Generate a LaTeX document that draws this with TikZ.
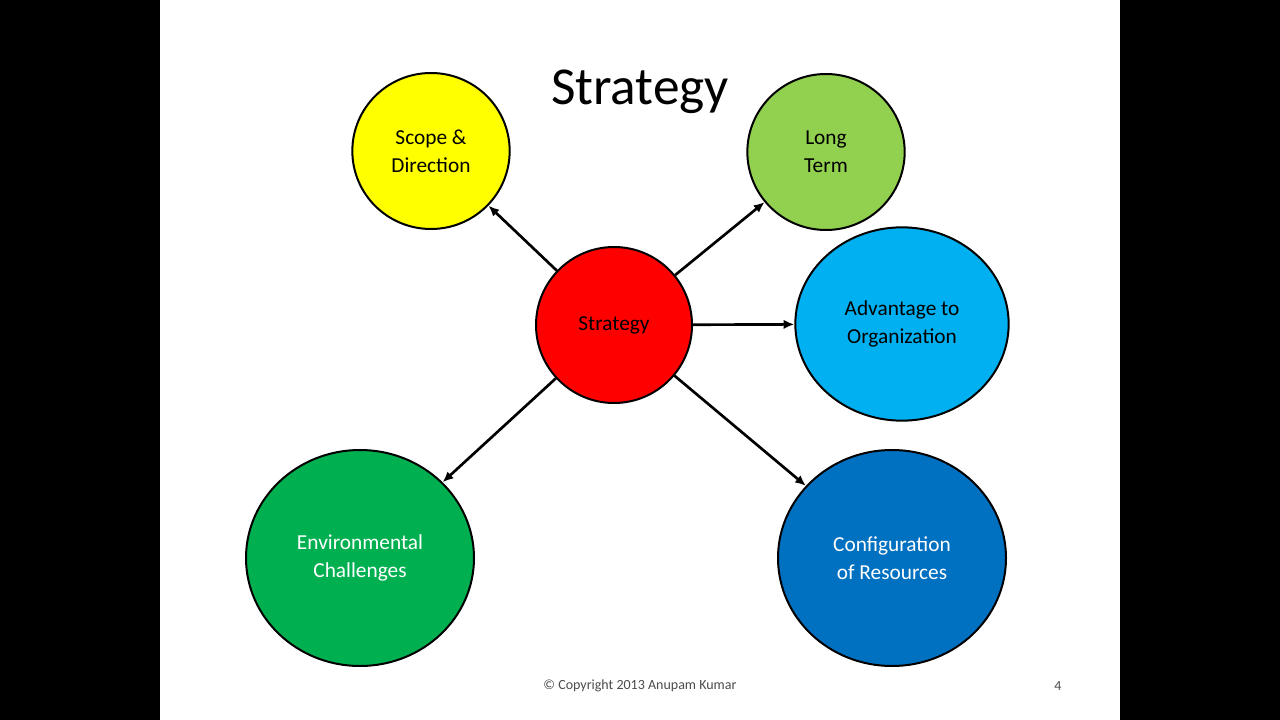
\documentclass[tikz,border=0pt]{standalone}
\usepackage{fontspec}
\setmainfont{Carlito}
\usetikzlibrary{shapes.geometric,arrows.meta}
\definecolor{scopeyellow}{HTML}{FFFF00}
\definecolor{termgreen}{HTML}{92D050}
\definecolor{advblue}{HTML}{00B0F0}
\definecolor{stratred}{HTML}{FF0000}
\definecolor{envgreen}{HTML}{00B050}
\definecolor{confblue}{HTML}{0070C0}
\begin{document}
\begin{tikzpicture}[x=0.75pt, y=-0.75pt,
	bubble/.style = {draw, ellipse, line width=1.5pt, align=center, font=\fontsize{16}{21}\selectfont, inner sep=0pt},
	link/.style = {-{Latex[length=8pt,width=7pt]}, line width=2pt}]
	\fill[black] (0,0) rectangle (1280,720);
	\fill[white] (160,0) rectangle (1120,720);
	\useasboundingbox (0,0) rectangle (1280,720);
	%Title and footer
	\node (title) at (640,92) {\fontsize{40}{48}\selectfont Strategy};
	\node (copy) at (640,686) {\fontsize{10.5}{12}\selectfont\color{black!70}© Copyright 2013 Anupam Kumar};
	\node (page) at (1058,686) {\fontsize{10.5}{12}\selectfont\color{black!70}4};
	%Circles
	\node[bubble, fill=stratred, minimum width=117pt, minimum height=117pt] (strat) at (614,325) {Strategy};
	\node[bubble, fill=scopeyellow, minimum width=118pt, minimum height=117pt] (scope) at (431,151) {Scope \&\\Direction};
	\node[bubble, fill=termgreen, minimum width=118pt, minimum height=117pt] (term) at (826,152) {Long\\Term};
	\node[bubble, fill=advblue, minimum width=160pt, minimum height=145pt] (adv) at (902,324) {Advantage to\\Organization};
	\node[bubble, fill=envgreen, text=white, minimum width=171pt, minimum height=162pt] (env) at (360,558) {Environmental\\Challenges};
	\node[bubble, fill=confblue, text=white, minimum width=171pt, minimum height=162pt] (conf) at (892,558) {Configuration\\of Resources};
	%Arrows
	\draw[link] (strat) -- (scope);
	\draw[link] (strat) -- (term);
	\draw[link] (strat) -- (adv);
	\draw[link] (strat) -- (env);
	\draw[link] (strat) -- (conf);
\end{tikzpicture}
\end{document}
